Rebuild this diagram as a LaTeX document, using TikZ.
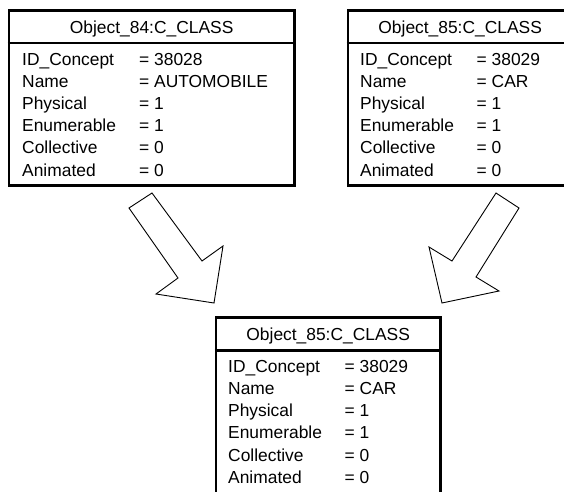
\documentclass[tikz,border=0pt]{standalone}
\usepackage{fontspec}
\setmainfont{Liberation Sans}
\usetikzlibrary{positioning,calc}

\begin{document}
\begin{tikzpicture}[x=1pt, y=-1pt,
    every node/.style={font=\fontsize{17.4}{20}\selectfont, inner sep=0pt},
    objbox/.style={draw, line width=2.8pt, anchor=north west, minimum width=224.5pt, minimum height=175pt},
    rowtext/.style={anchor=base west},
    bigarrow/.style={draw, line width=0.9pt, fill=white, line join=miter}]
  \clip (0,0) rectangle (564,491);

  % object boxes
  \node[objbox, minimum width=285.5pt] (o84) at (7.5,8.7) {};
  \node[objbox] (o85) at (346.5,8.7) {};
  \node[objbox, minimum height=180pt] (res) at (214.5,316) {};

  % header lines and titles
  \foreach \b/\t in {o84/Object\_84:C\_CLASS, o85/Object\_85:C\_CLASS, res/Object\_85:C\_CLASS} {
    \draw[line width=2.8pt] ($(\b.north west)+(0,34.3)$) -- ($(\b.north east)+(0,34.3)$);
    \node[anchor=base] (\b-title) at ($(\b.north)+(0,24.3)$) {\t};
  }

  % attribute rows
  \foreach \l/\v [count=\i from 0] in {ID\_Concept/38028, Name/AUTOMOBILE, Physical/1, Enumerable/1, Collective/0, Animated/0} {
    \node[rowtext] (o84-l\i) at ($(o84.north west)+(14.5,56.3+22.2*\i)$) {\l};
    \node[rowtext] (o84-v\i) at ($(o84.north west)+(131.5,56.3+22.2*\i)$) {= \v};
  }
  \foreach \b in {o85, res} {
    \foreach \l/\v [count=\i from 0] in {ID\_Concept/38029, Name/CAR, Physical/1, Enumerable/1, Collective/0, Animated/0} {
      \node[rowtext] (\b-l\i) at ($(\b.north west)+(13.5,56.3+22.2*\i)$) {\l};
      \node[rowtext] (\b-v\i) at ($(\b.north west)+(130,56.3+22.2*\i)$) {= \v};
    }
  }

  % block arrows
  \draw[bigarrow] (152,193) -- (202,261) -- (223,246) -- (214,303) -- (156,294) -- (178,278) -- (129,208) -- cycle;
  \draw[bigarrow] (496,193) -- (519,208) -- (476,277) -- (499,291) -- (442,303) -- (429,247) -- (452,261) -- cycle;
\end{tikzpicture}
\end{document}
